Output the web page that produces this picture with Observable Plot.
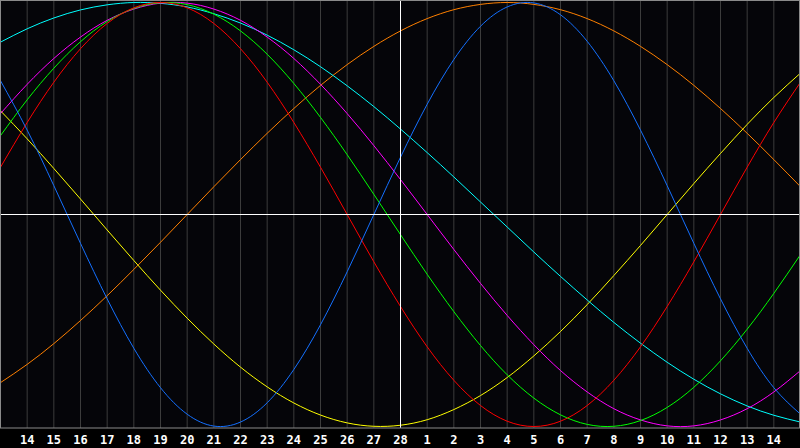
<!DOCTYPE html>
<html>
<head>
<meta charset="utf-8">
<script src="https://cdn.jsdelivr.net/npm/d3@7"></script>
<script src="https://cdn.jsdelivr.net/npm/@observablehq/plot@0.6"></script>
<style>
  html, body { margin: 0; padding: 0; background: #000; }
  #chart svg { display: block; }
</style>
</head>
<body>
<div id="chart"></div>
<script>
// x positions: 0..30 (one per day column; 1..29 carry the day labels)
const xPos = [0,1,2,3,4,5,6,7,8,9,10,11,12,13,14,15,16,17,18,19,20,21,22,23,24,25,26,27,28,29,30];
const dayLabels = ["14","15","16","17","18","19","20","21","22","23","24","25","26","27","28",
                   "1","2","3","4","5","6","7","8","9","10","11","12","13","14"];
const todayPos = 15;

// values (-1 .. 1)
const blue = [0.631,0.398,0.136,-0.136,-0.398,-0.631,-0.817,-0.942,-0.998,-0.979,-0.888,-0.731,-0.520,-0.270,0,0.270,0.520,0.731,0.888,0.979,0.998,0.942,0.817,0.631,0.398,0.136,-0.136,-0.398,-0.631,-0.817,-0.942];
const red = [0.223,0.434,0.624,0.782,0.901,0.975,1,0.975,0.901,0.782,0.624,0.434,0.223,0,-0.223,-0.434,-0.624,-0.782,-0.901,-0.975,-1,-0.975,-0.901,-0.782,-0.624,-0.434,-0.223,0,0.223,0.434,0.624];
const green = [0.372,0.541,0.690,0.815,0.910,0.972,0.999,0.990,0.945,0.866,0.756,0.618,0.458,0.282,0.095,-0.095,-0.282,-0.458,-0.618,-0.756,-0.866,-0.945,-0.990,-0.999,-0.972,-0.910,-0.815,-0.690,-0.541,-0.372,-0.189];
const magenta = [0.476,0.614,0.736,0.837,0.916,0.969,0.997,0.997,0.969,0.916,0.837,0.736,0.614,0.476,0.325,0.165,0,-0.165,-0.325,-0.476,-0.614,-0.736,-0.837,-0.916,-0.969,-0.997,-0.997,-0.969,-0.916,-0.837,-0.736];
const yellow = [0.489,0.357,0.217,0.073,-0.073,-0.217,-0.357,-0.489,-0.611,-0.720,-0.813,-0.889,-0.946,-0.983,-0.999,-0.994,-0.968,-0.920,-0.854,-0.769,-0.667,-0.552,-0.425,-0.288,-0.146,0,0.146,0.288,0.425,0.552,0.667];
const orange = [-0.793,-0.707,-0.609,-0.5,-0.383,-0.259,-0.131,0,0.131,0.259,0.383,0.5,0.609,0.707,0.793,0.866,0.924,0.966,0.991,1,0.991,0.966,0.924,0.866,0.793,0.707,0.609,0.5,0.383,0.259,0.131];
const cyan = [0.813,0.876,0.927,0.965,0.989,1.000,0.996,0.979,0.947,0.903,0.846,0.777,0.697,0.607,0.509,0.403,0.292,0.177,0.059,-0.059,-0.177,-0.292,-0.403,-0.509,-0.607,-0.697,-0.777,-0.846,-0.903,-0.947,-0.979];

const seriesNames = ["orange","yellow","cyan","magenta","green","red","blue"];
const seriesValues = {orange, yellow, cyan, magenta, green, red, blue};
const seriesColors = {orange:"#ff8000", yellow:"#ffff00", cyan:"#00ffff", magenta:"#ff00ff", green:"#00ff00", red:"#ff0000", blue:"#1470ff"};

const Y = 1.0094;

const lineMarks = seriesNames.map(name =>
  Plot.line(xPos.map((x, i) => ({x, v: seriesValues[name][i]})), {
    x: "x", y: "v", stroke: seriesColors[name], strokeWidth: 1, curve: "natural"
  })
);

const chart = Plot.plot({
  width: 800,
  height: 448,
  marginLeft: 0,
  marginRight: 0,
  marginTop: 0,
  marginBottom: 20,
  style: {background: "#000", color: "#fff"},
  x: {domain: [0, 30], axis: null, label: null},
  y: {domain: [-Y, Y], axis: null, label: null},
  marks: [
    Plot.frame({fill: "#050509", stroke: null}),
    Plot.ruleX(xPos.slice(1, 30), {stroke: "#3c3c3c", strokeWidth: 1}),
    ...lineMarks,
    Plot.ruleY([0], {stroke: "#ffffff", strokeWidth: 1}),
    Plot.ruleX([todayPos], {stroke: "#ffffff", strokeWidth: 1}),
    Plot.frame({stroke: "#8a8a8a", insetRight: 1, insetBottom: 0.5}),
    Plot.axisX(xPos.slice(1, 30), {
      label: null,
      tickFormat: d => dayLabels[d - 1],
      tickSize: 0,
      tickPadding: 7,
      fontSize: 12,
      fontWeight: "bold",
      fontFamily: "DejaVu Sans Mono",
      fill: "#ffffff"
    })
  ]
});

document.getElementById("chart").appendChild(chart);
</script>
</body>
</html>
